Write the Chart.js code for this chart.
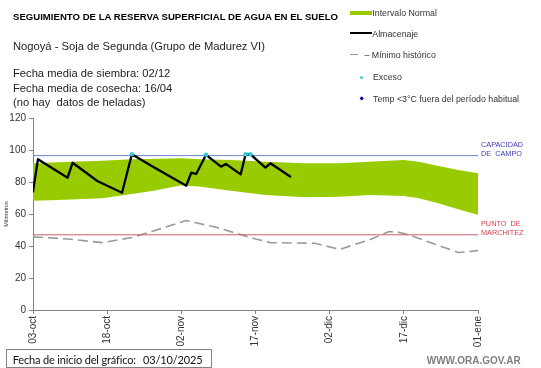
<!DOCTYPE html>
<html>
<head>
<meta charset="utf-8">
<script src="https://cdn.jsdelivr.net/npm/chart.js@4/dist/chart.umd.min.js"></script>
<style>
  html, body { margin:0; padding:0; background:#fff; }
  #wrap { position:relative; width:541px; height:368px; overflow:hidden; font-family:'Liberation Sans', Arial, sans-serif; }
  #c { position:absolute; left:0; top:0; }
  .t { position:absolute; white-space:pre; transform:translateY(-50%); line-height:1.15; }
  .leg { font-size:8.8px; color:#333; }
  .sw { position:absolute; }
  .bx { font-size:11px; font-family:Lato,'Open Sans',sans-serif; color:#111; letter-spacing:-0.15px; }
</style>
</head>
<body>
<div id="wrap">
  <canvas id="c" width="541" height="368"></canvas>

  <div class="t" style="left:13px;top:16.6px;font-size:9.6px;font-weight:bold;color:#000;">SEGUIMIENTO DE LA RESERVA SUPERFICIAL DE AGUA EN EL SUELO</div>
  <div class="t" style="left:13px;top:46px;font-size:11.2px;color:#222;">Nogoyá - Soja de Segunda (Grupo de Madurez VI)</div>
  <div class="t" style="left:13px;top:73.4px;font-size:11.2px;color:#222;">Fecha media de siembra: 02/12</div>
  <div class="t" style="left:13px;top:87.9px;font-size:11.2px;color:#222;">Fecha media de cosecha: 16/04</div>
  <div class="t" style="left:13px;top:101.5px;font-size:11.2px;color:#222;">(no hay  datos de heladas)</div>

  <!-- legend -->
  <div class="sw" style="left:350px;top:11px;width:22px;height:4px;background:#99CC00;"></div>
  <div class="t leg" style="left:372.3px;top:13px;">Intervalo Normal</div>
  <div class="sw" style="left:350px;top:32.3px;width:22px;height:2px;background:#000;"></div>
  <div class="t leg" style="left:372.3px;top:33.5px;">Almacenaje</div>
  <div class="sw" style="left:350px;top:53.5px;width:8px;height:1.5px;background:#999;"></div>
  <div class="t leg" style="left:364.5px;top:54.5px;">– Mínimo histórico</div>
  <div class="sw" style="left:360.2px;top:75.8px;width:3px;height:3px;border-radius:50%;background:#33CCDD;"></div>
  <div class="t leg" style="left:373px;top:77.3px;">Exceso</div>
  <div class="sw" style="left:360px;top:97.3px;width:3.4px;height:3.4px;transform:rotate(45deg);background:#000099;"></div>
  <div class="t leg" style="left:373px;top:99px;">Temp &lt;3°C fuera del período habitual</div>

  <!-- reference line labels -->
  <div class="t" style="left:481px;top:145px;font-size:7.3px;color:#3D3DB5;">CAPACIDAD</div>
  <div class="t" style="left:481px;top:154.3px;font-size:7.3px;color:#3D3DB5;">DE  CAMPO</div>
  <div class="t" style="left:481px;top:224.3px;font-size:7.3px;color:#D04050;">PUNTO  DE</div>
  <div class="t" style="left:481px;top:233.3px;font-size:7.3px;color:#D04050;">MARCHITEZ</div>

  <!-- bottom -->
  <div style="position:absolute;left:6px;top:349px;width:206px;height:19px;border:1px solid #8a7f7f;box-sizing:border-box;"></div>
  <div class="t bx" style="left:12.7px;top:359.5px;">Fecha de inicio del gráfico:</div>
  <div class="t bx" style="left:143px;top:359.5px;">03/10/2025</div>
  <div class="t" style="left:426.7px;top:360.7px;font-size:10px;font-weight:bold;color:#808080;">WWW.ORA.GOV.AR</div>
</div>

<script>
// ---- data (days since 03-oct) ----
const tickLabels = ['03-oct','18-oct','02-nov','17-nov','02-dic','17-dic','01-ene'];

const bandDays  = [0, 5, 14, 20, 25, 30, 34, 40, 47, 55, 62, 68, 75, 78, 82, 86, 90];
const bandUpper = [91.7, 92.3, 93.3, 94.2, 94.6, 94.8, 94.2, 93.8, 92.7, 91.7, 91.7, 92.7, 93.8, 92.7, 90, 87.5, 85.4];
const bandLower = [68.3, 68.7, 69.8, 72.5, 74.8, 78.0, 77.0, 74.6, 71.9, 70.4, 70.8, 71.9, 71.3, 69.8, 66.7, 62.9, 59.6];

const minDays = [0, 7, 14, 20, 24, 31, 37, 45, 48, 57, 62, 68, 72, 74, 76, 86, 90];
const minVals = [45.7, 44.4, 42.1, 45.3, 49, 55.9, 51.7, 44.4, 42.1, 41.7, 37.9, 43.8, 49, 48.5, 47, 35.9, 37.1];

const almDays = [0, 1, 7, 8, 13, 18, 20, 24, 31, 32, 33, 35, 38, 39, 42, 43, 44, 47, 48, 52];
const almVals = [74, 94.2, 82.7, 92, 80.6, 73.3, 97.3, 90, 77.7, 85.8, 85, 97, 89.6, 91.3, 84.8, 97.3, 97.3, 89, 91.7, 83.4];

const excDays = [20, 35, 43, 44];
const excVals = [97.3, 97, 97.3, 97.3];

const capDays = [0, 90];
const capVals = [96.5, 96.5];
const marDays = [0, 90];
const marVals = [47, 47];

const pts = (xs, ys) => xs.map((x, i) => ({x: x, y: ys[i]}));
const FAM = "'Liberation Sans', Arial, sans-serif";

new Chart(document.getElementById('c'), {
  type: 'line',
  data: {
    datasets: [
      { label: 'lower', data: pts(bandDays, bandLower), borderWidth: 0, pointRadius: 0, fill: false, order: 7 },
      { label: 'Intervalo Normal', data: pts(bandDays, bandUpper), borderWidth: 0, pointRadius: 0,
        fill: '-1', backgroundColor: '#99CC00', order: 6 },
      { label: 'Mínimo histórico', data: pts(minDays, minVals), borderColor: '#9a9a9a', borderWidth: 1.6,
        borderDash: [10, 5], pointRadius: 0, fill: false, order: 5 },
      { label: 'Capacidad', data: pts(capDays, capVals), borderColor: '#6F84CC', borderWidth: 1,
        pointRadius: 0, fill: false, order: 4 },
      { label: 'Marchitez', data: pts(marDays, marVals), borderColor: '#C8606A', borderWidth: 1,
        pointRadius: 0, fill: false, order: 3 },
      { label: 'Almacenaje', data: pts(almDays, almVals), borderColor: '#000', borderWidth: 2.3,
        borderJoinStyle: 'round', borderCapStyle: 'round', pointRadius: 0, fill: false, order: 2 },
      { label: 'Exceso', data: pts(excDays, excVals), showLine: false, pointRadius: 2.2,
        pointBackgroundColor: '#33CCDD', pointBorderWidth: 0, order: 1 }
    ]
  },
  options: {
    responsive: false,
    animation: false,
    layout: { padding: { left: 0, top: 118, right: 63, bottom: 0 } },
    plugins: { legend: { display: false }, tooltip: { enabled: false } },
    scales: {
      x: {
        type: 'linear', min: 0, max: 90,
        afterFit: (s) => { s.height = 58; },
        grid: { drawOnChartArea: false, drawTicks: true, tickLength: 4, color: '#808080' },
        border: { color: '#808080', width: 1 },
        ticks: {
          stepSize: 15, autoSkip: false, maxRotation: 90, minRotation: 90, padding: 2,
          font: { size: 10, family: FAM }, color: '#333',
          callback: (v) => tickLabels[Math.round(v / 15)]
        }
      },
      y: {
        min: 0, max: 120,
        afterFit: (s) => { s.width = 33; },
        grid: { drawOnChartArea: false, drawTicks: true, tickLength: 4, color: '#808080' },
        border: { color: '#808080', width: 1 },
        ticks: { stepSize: 20, padding: 3, font: { size: 10, family: FAM }, color: '#333' },
        title: { display: true, text: 'Milímetros', font: { size: 5.5, family: FAM }, color: '#333',
                 padding: { top: 3, bottom: 0 } }
      }
    }
  }
});
</script>
</body>
</html>
